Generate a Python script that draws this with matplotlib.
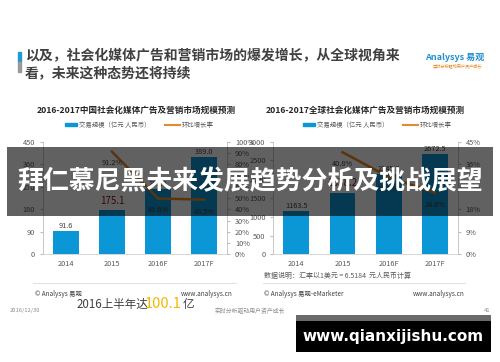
import matplotlib
matplotlib.use("Agg")
import matplotlib.pyplot as plt
from matplotlib.patches import Rectangle
from matplotlib.lines import Line2D

plt.rcParams['font.family'] = ['Noto Sans CJK SC', 'DejaVu Sans']

# data
years = ["2014", "2015", "2016F", "2017F"]
cn_size = [91.6, 175.1, 261.9, 389.0]
cn_growth = [None, 91.2, 49.6, 48.5]
gl_size = [1163.5, 1638.2, 2145.2, 2672.5]
gl_growth = [None, 40.8, 30.9, 24.6]

cn_yticks = [0, 90, 180, 270, 360, 450]
cn_rticks = [0, 10, 20, 30, 40, 50, 60, 70, 80, 90, 100]
gl_yticks = [0, 500, 1000, 1500, 2000, 2500, 3000]
gl_rticks = [0, 9, 18, 27, 36, 45]

BLUE = "#0b96d6"
ORANGE = "#e8892c"
TXT = "#595959"

W, H = 500, 362
fig = plt.figure(figsize=(W / 100, H / 100), dpi=100)


def px(x, y, w, h):
    # pixel box (top-left origin) -> figure fraction
    return [x / W, 1 - (y + h) / H, w / W, h / H]


def ftext(x, y, s, **kw):
    fig.text(x / W, 1 - y / H, s, **kw)


def draw_chart(left, title, size, growth, yticks, rticks, title_x, leg_x):
    ax = fig.add_axes(px(left, 141.7, 184.5, 112.6))
    xs = range(len(years))
    ax.bar(xs, size, width=0.56, color=BLUE, zorder=2)
    ax.set_xlim(-0.5, len(years) - 0.5)
    ax.set_ylim(yticks[0], yticks[-1])
    ax.set_yticks(yticks)
    ax.set_xticks(list(xs))
    ax.set_xticklabels(years)
    ax.tick_params(labelsize=5.3, colors=TXT, length=0, pad=4)
    ax.tick_params(axis="y", length=2.5, color="#bfbfbf", pad=3)
    for s in ["top", "right"]:
        ax.spines[s].set_visible(False)
    ax.spines["left"].set_color("#bfbfbf")
    ax.spines["bottom"].set_color("#d0d0d0")
    ax.spines["left"].set_linewidth(0.6)
    ax.spines["bottom"].set_linewidth(0.6)
    ymax = yticks[-1]
    for i, v in enumerate(size):
        if i == 1:
            ax.text(i, v + ymax * 0.04, f"{v:.1f}", ha="center", va="bottom",
                    fontsize=7, color="#8b1a1a", zorder=3)
        else:
            ax.text(i, v + ymax * 0.01, f"{v:.1f}", ha="center", va="bottom",
                    fontsize=5.3, color="#404040", zorder=3)

    ax2 = ax.twinx()
    ax2.set_ylim(rticks[0], rticks[-1])
    ax2.set_yticks(rticks)
    ax2.set_yticklabels([f"{t}%" for t in rticks])
    ax2.tick_params(labelsize=5.3, colors=TXT, length=2.5, pad=3)
    ax2.tick_params(axis="y", color="#bfbfbf")
    for s in ["top", "left", "bottom"]:
        ax2.spines[s].set_visible(False)
    ax2.spines["right"].set_color("#bfbfbf")
    ax2.spines["right"].set_linewidth(0.6)
    gx = [i for i, g in enumerate(growth) if g is not None]
    gy = [g for g in growth if g is not None]
    ax2.plot(gx, gy, color=ORANGE, lw=1.8, zorder=3)
    rmax = rticks[-1]
    for x, g in zip(gx, gy):
        ax2.text(x, g - rmax * 0.07, f"{g:.1f}%", ha="center", va="top",
                 fontsize=5.3, color="#404040")

    ftext(title_x, 110, title, ha="center", va="center", fontsize=6.2,
          fontweight="bold", color="#262626")
    # legend
    fig.add_artist(Rectangle(((leg_x) / W, 1 - 126 / H), 12 / W, 3.2 / H,
                             transform=fig.transFigure, color=BLUE))
    ftext(leg_x + 14, 124.5, "交易规模（亿元 人民币）", ha="left", va="center",
          fontsize=4.6, color=TXT)
    lx = leg_x + 100
    fig.add_artist(Line2D([lx / W, (lx + 15) / W], [1 - 124.5 / H] * 2,
                          transform=fig.transFigure, color=ORANGE, lw=1.5))
    ftext(lx + 17, 124.5, "环比增长率", ha="left", va="center",
          fontsize=4.6, color=TXT)
    return ax


draw_chart(42.7, "2016-2017中国社会化媒体广告及营销市场规模预测", cn_size,
           cn_growth, cn_yticks, cn_rticks, 136, 65)
draw_chart(273.3, "2016-2017全球社会化媒体广告及营销市场规模预测", gl_size,
           gl_growth, gl_yticks, gl_rticks, 365, 303)

# header
fig.add_artist(Rectangle((18 / W, 1 - 62 / H), 3 / W, 10 / H,
                         transform=fig.transFigure, color="#1f9ad6"))
fig.add_artist(Rectangle((18 / W, 1 - 72 / H), 3 / W, 10 / H,
                         transform=fig.transFigure, color="#9a9a9a"))
ftext(25, 56, "以及，社会化媒体广告和营销市场的爆发增长，从全球视角来",
      ha="left", va="center", fontsize=10, fontweight="bold", color="#404040")
ftext(25, 73, "看，未来这种态势还将持续",
      ha="left", va="center", fontsize=10, fontweight="bold", color="#404040")
ftext(455, 57, "Analysys 易观", ha="center", va="center", fontsize=6.5,
      fontweight="bold", color="#1f8fd0", style="italic")
ftext(457, 65.5, "实时分析驱动用户资产成长", ha="center", va="center",
      fontsize=3, color="#e8892c")

# footer
fig.add_artist(Line2D([33 / W, 236 / W], [1 - 283 / H] * 2,
                      transform=fig.transFigure, color="#d9d9d9", lw=0.6))
fig.add_artist(Line2D([263 / W, 465 / W], [1 - 283 / H] * 2,
                      transform=fig.transFigure, color="#d9d9d9", lw=0.6))
ftext(264, 275.5, "数据说明：汇率以1美元 = 6.5184  元人民币计算", ha="left",
      va="center", fontsize=5, color=TXT)
ftext(35, 294, "© Analysys 易观", ha="left", va="center", fontsize=4.6, color="#404040")
ftext(233, 294, "www.analysys.cn", ha="right", va="center", fontsize=4.6, color="#404040")
ftext(264, 294, "© Analysys 易观-eMarketer", ha="left", va="center", fontsize=4.6,
      color="#404040")
ftext(465, 294, "www.analysys.cn", ha="right", va="center", fontsize=4.6, color="#404040")
ftext(10, 310.5, "2016/12/30", ha="left", va="center", fontsize=4.2, color="#8c8c8c")
ftext(250, 310.5, "实时分析驱动用户资产成长", ha="center", va="center",
      fontsize=4.2, color="#8c8c8c")
ftext(490, 310.5, "41", ha="right", va="center", fontsize=4.2, color="#8c8c8c")
ftext(77, 304.5, "2016上半年达", ha="left", va="center", fontsize=8.3,
      color="#404040")
ftext(145, 304, "100.1", ha="left", va="center", fontsize=10.5,
      color="#f2b705")
ftext(183, 304.5, "亿", ha="left", va="center", fontsize=8.3, color="#404040")

# dark banner across the charts
fig.add_artist(Rectangle((7 / W, 1 - 216 / H), 486 / W, 69 / H,
                         transform=fig.transFigure, color="#000000",
                         alpha=0.62, zorder=5, lw=0))
ftext(250, 182, "拜仁慕尼黑未来发展趋势分析及挑战展望", ha="center",
      va="center", fontsize=18.6, fontweight="bold", color="white", zorder=6)

# site watermark box
fig.add_artist(Rectangle((296 / W, 1 - 321 / H), 195 / W, 6 / H,
                         transform=fig.transFigure, color="#6a6a6a", zorder=5, lw=0))
fig.add_artist(Rectangle((296 / W, 1 - 352 / H), 195 / W, 31 / H,
                         transform=fig.transFigure, color="#000000", zorder=5, lw=0))
ftext(393.5, 336.5, "www.qianxijishu.com", ha="center", va="center",
      fontsize=11, fontweight="bold", color="white", zorder=6,
      family="DejaVu Sans")

fig.savefig("out.png", dpi=100, facecolor="white")
